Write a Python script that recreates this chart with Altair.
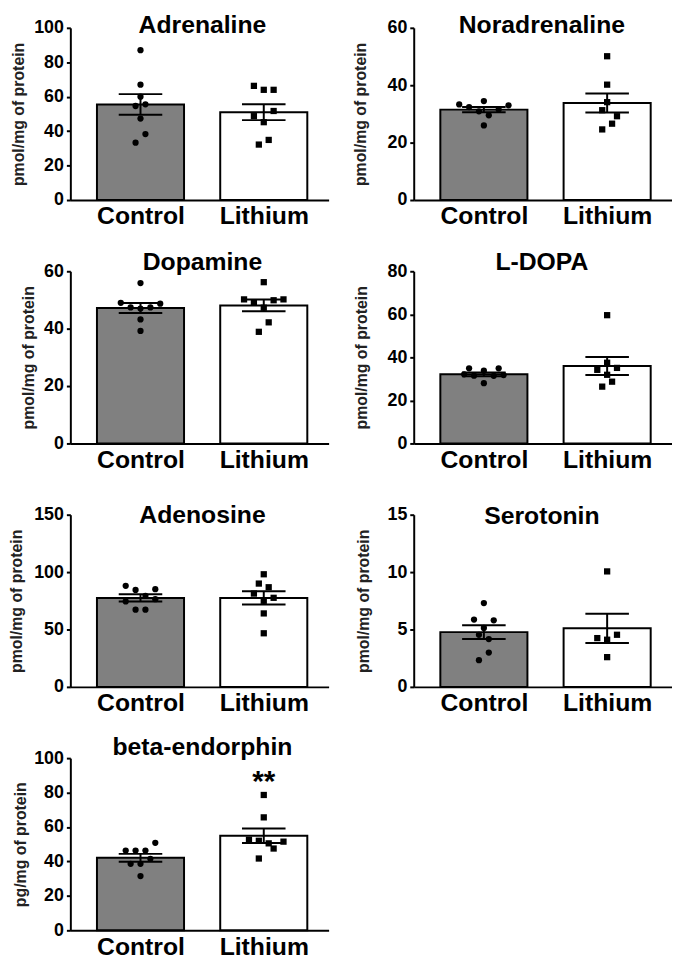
import altair as alt
import pandas as pd

FONT = "Liberation Sans"
groups = ["Control", "Lithium"]

titles = ["Adrenaline", "Noradrenaline", "Dopamine", "L-DOPA",
          "Adenosine", "Serotonin", "beta-endorphin"]
ylabels = ["pmol/mg of protein"] * 6 + ["pg/mg of protein"]
ymax = [100, 60, 60, 80, 150, 15, 100]
ystep = [20, 20, 20, 20, 50, 5, 20]

# bar means and SEM
mean_control = [55.5, 31.5, 47.2, 32.1, 77.5, 4.77, 42.1]
sem_control = [6.0, 0.95, 1.75, 0.9, 3.2, 0.6, 2.3]
mean_lithium = [51.0, 33.8, 48.1, 36.0, 77.5, 5.1, 54.9]
sem_lithium = [4.6, 3.3, 2.05, 4.2, 5.8, 1.28, 4.2]

# individual animals (value) and their scatter column (col)
adrenaline_control = [87, 67, 60, 54.6, 55.6, 47.3, 38.3, 33.3]
adrenaline_control_col = [0, 0, 0, -1, 1, 0, 1, -1]
adrenaline_lithium = [66.3, 64, 64, 51.7, 48.7, 45.2, 32.2, 34.9]
adrenaline_lithium_col = [-2, 0, 2, 2, -2, 0, -1, 1]

noradrenaline_control = [33.3, 32.4, 34.5, 33, 30.9, 29.5, 31.5, 26]
noradrenaline_control_col = [-5, -3, 0, 5, -1, 1, 3, 0]
noradrenaline_lithium = [50.1, 40.2, 34.1, 31.3, 29.2, 26.6, 24.6]
noradrenaline_lithium_col = [0, 0, 0, -1, 2, 1, -1]

dopamine_control = [55.9, 49, 48.7, 47.4, 47.4, 47, 43.2, 39.2]
dopamine_control_col = [0, -4, 4, -2, 2, 0, 0, 0]
dopamine_lithium = [56.2, 50.2, 49.9, 50.2, 49, 47.3, 42.2, 38.9]
dopamine_lithium_col = [0, -4, 2, 4, -2, 0, 1, -1]

ldopa_control = [34.9, 33.8, 34.9, 32.1, 31.5, 31.4, 31.8, 28]
ldopa_control_col = [-3, 0, 3, -4, -2, 2, 4, 0]
ldopa_lithium = [59.6, 37.5, 35.1, 34.2, 31.9, 28.7, 26.4]
ldopa_lithium_col = [0, 0, 2, -2, 0, 1, -1]

adenosine_control = [88, 84.5, 85.1, 79.3, 74.4, 76.4, 67.2, 67.2]
adenosine_control_col = [-3, -1, 3, 1, -3, 3, -1, 1]
adenosine_lithium = [98.1, 90, 86.8, 81.3, 77.6, 75, 64, 46.7]
adenosine_lithium_col = [0, -1, 1, -2, 2, 0, 0, 0]

serotonin_control = [7.3, 5.86, 5.8, 5.14, 4.54, 4.17, 2.99, 2.33]
serotonin_control_col = [0, -2, 2, 0, -1, 1, 1, -1]
serotonin_lithium = [10.06, 4.54, 4.25, 4.11, 2.59]
serotonin_lithium_col = [0, 2, -2, 0, 0]

endorphin_control = [50.8, 46.3, 46.3, 46.3, 38.6, 38.6, 41.5, 31.5]
endorphin_control_col = [3, -3, -1, 1, -2, 0, 2, 0]
endorphin_lithium = [78.6, 65.6, 52.6, 52.0, 51.5, 50.5, 47.5, 41.7]
endorphin_lithium_col = [0, 0, -3, -1, 4, 1, 2, -1]

control_values = [adrenaline_control, noradrenaline_control, dopamine_control,
                  ldopa_control, adenosine_control, serotonin_control, endorphin_control]
control_cols = [adrenaline_control_col, noradrenaline_control_col, dopamine_control_col,
                ldopa_control_col, adenosine_control_col, serotonin_control_col,
                endorphin_control_col]
lithium_values = [adrenaline_lithium, noradrenaline_lithium, dopamine_lithium,
                  ldopa_lithium, adenosine_lithium, serotonin_lithium, endorphin_lithium]
lithium_cols = [adrenaline_lithium_col, noradrenaline_lithium_col, dopamine_lithium_col,
                ldopa_lithium_col, adenosine_lithium_col, serotonin_lithium_col,
                endorphin_lithium_col]

# significance annotation (beta-endorphin, Lithium)
star_text = "**"
star_value = 81
star_panel = 6

# layout (pixels / axis units)
W, H = 261, 174
BAR_W = 88
CAP_W = 44
COL_STEP = 0.04            # one scatter column, in group-axis units
X_DOMAIN = [-0.529, 1.486]
title_dy = [5.7, 5.7, -1.3, -1.3, 8, 9, -3.3]
title_dx = [3, -1, 3, -1, 3, -1, 3]
axis_title_x = [-44, -46, -34, -45, -46, -43, -42]

GROUP_EXPR = "indexof(" + str(groups) + ", datum.group)"
LABEL_EXPR = str(groups) + "[datum.value]"


def panel(i):
    pts = pd.DataFrame({
        "group": ["Control"] * len(control_values[i]) + ["Lithium"] * len(lithium_values[i]),
        "value": control_values[i] + lithium_values[i],
        "col": control_cols[i] + lithium_cols[i],
    })
    summ = pd.DataFrame({
        "group": groups,
        "mean": [mean_control[i], mean_lithium[i]],
        "sem": [sem_control[i], sem_lithium[i]],
    })

    xscale = alt.Scale(domain=X_DOMAIN, nice=False, zero=False)
    xaxis = alt.Axis(title=None, values=[0, 1], labelExpr=LABEL_EXPR, labelAngle=0,
                     ticks=False, labelFontSize=25, labelFontWeight="bold",
                     labelColor="black", labelPadding=4, labelFlush=False, grid=False,
                     domainColor="black", domainWidth=2, labelFont=FONT)
    yscale = alt.Scale(domain=[0, ymax[i]], nice=False, zero=True)
    yaxis = alt.Axis(title=ylabels[i], values=list(range(0, ymax[i] + 1, ystep[i])),
                     grid=False, domainColor="black", domainWidth=2, tickColor="black",
                     tickWidth=2, tickSize=4, labelFontSize=18, labelFontWeight="bold",
                     labelColor="black", labelPadding=3, labelFont=FONT,
                     titleFontSize=16, titleFontWeight="bold", titleColor="#222222",
                     titleFont=FONT, titleX=axis_title_x[i], titleY=H / 2)

    base = alt.Chart(summ).transform_calculate(
        gx=GROUP_EXPR, lo="datum.mean - datum.sem", hi="datum.mean + datum.sem")
    x = alt.X("gx:Q", scale=xscale, axis=xaxis)

    bars = base.mark_bar(stroke="black", strokeWidth=2, width=BAR_W).encode(
        x=x,
        y=alt.Y("mean:Q", scale=yscale, axis=yaxis),
        color=alt.Color("group:N", scale=alt.Scale(domain=groups, range=["#808080", "#ffffff"]),
                        legend=None),
    )
    rule = base.mark_rule(color="black", strokeWidth=2).encode(
        x=x, y=alt.Y("lo:Q", scale=yscale, axis=yaxis), y2="hi:Q")
    cap_hi = base.mark_tick(color="black", size=CAP_W, thickness=2, opacity=1,
                            orient="horizontal").encode(
        x=x, y=alt.Y("hi:Q", scale=yscale, axis=yaxis))
    cap_lo = base.mark_tick(color="black", size=CAP_W, thickness=2, opacity=1,
                            orient="horizontal").encode(
        x=x, y=alt.Y("lo:Q", scale=yscale, axis=yaxis))
    points = alt.Chart(pts).transform_calculate(
        px=GROUP_EXPR + " + datum.col * " + str(COL_STEP)
    ).mark_point(filled=True, opacity=1, color="black", size=40).encode(
        x=alt.X("px:Q", scale=xscale, axis=xaxis),
        y=alt.Y("value:Q", scale=yscale, axis=yaxis),
        shape=alt.Shape("group:N", scale=alt.Scale(domain=groups, range=["circle", "square"]),
                        legend=None),
    )
    title = alt.Chart(pd.DataFrame({"t": [titles[i]]})).mark_text(
        font=FONT, fontSize=25, fontWeight="bold", color="black",
        align="center", baseline="alphabetic").encode(
        x=alt.value(W / 2 + title_dx[i]), y=alt.value(title_dy[i]), text="t:N")

    layers = [bars, rule, cap_hi, cap_lo, points, title]
    if i == star_panel:
        star = alt.Chart(pd.DataFrame({"group": ["Lithium"], "v": [star_value],
                                       "t": [star_text]})).transform_calculate(
            gx=GROUP_EXPR).mark_text(
            font=FONT, fontSize=30, fontWeight="bold", color="black",
            align="center", baseline="alphabetic").encode(
            x=x, y=alt.Y("v:Q", scale=yscale, axis=yaxis), text="t:N")
        layers.append(star)
    return alt.layer(*layers).properties(width=W, height=H)


chart = alt.concat(*[panel(i) for i in range(7)], columns=2,
                   spacing={"row": 72, "column": 86}, bounds="flush").properties(
    padding=0
).configure(font=FONT).configure_view(strokeWidth=0)

chart.save("out.html", embed_options={"renderer": "svg", "actions": False})
